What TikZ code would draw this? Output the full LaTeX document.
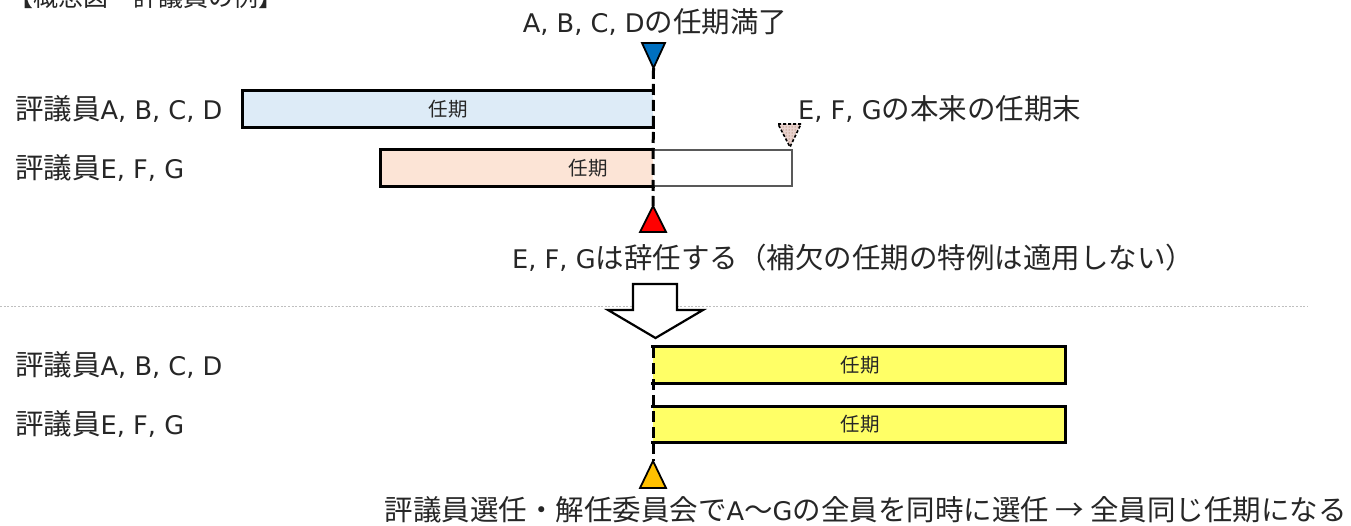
\documentclass[tikz,border=0pt]{standalone}
\usepackage{fontspec}
\setmainfont{Noto Sans CJK JP}
\newfontfamily\lat[Scale=0.9]{DejaVu Sans}
\usetikzlibrary{patterns}
\definecolor{txt}{HTML}{262626}
\definecolor{bluefill}{HTML}{DDEBF7}
\definecolor{orangefill}{HTML}{FCE4D6}
\definecolor{yellowfill}{HTML}{FFFF66}
\definecolor{bluetri}{HTML}{0070C0}
\definecolor{ambertri}{HTML}{FFC000}
\definecolor{graybar}{HTML}{595959}
\definecolor{dotgray}{HTML}{BFBFBF}
\definecolor{pinkfill}{HTML}{EAD3CF}
\tikzset{
  lbl/.style={font=\fontsize{28.5}{31}\selectfont, text=txt, inner sep=0pt},
  barlbl/.style={font=\fontsize{19.5}{22}\selectfont, text=txt, inner sep=0pt},
  bar/.style={draw=none, inner sep=0pt, minimum height=36pt},
  barline/.style={line width=3pt, line cap=rect},
  timeline/.style={line width=3pt, dash pattern=on 11pt off 5pt},
  tri/.style={line width=1.8pt, line join=miter},
}
\begin{document}
\begin{tikzpicture}[x=1pt,y=-1pt]
\useasboundingbox (0,0) rectangle (1351,526);
% title (cut off at top in the reference)
\node[font=\fontsize{25}{28}\selectfont, text=txt, inner sep=0pt, anchor=base west] (title) at (8,7) {【概念図・評議員の例】};

% top labels
\node[lbl] (endABCD) at (655,22) {{\lat A, B, C, D}の任期満了};
\node[lbl, anchor=west] (rowA) at (15,109) {評議員{\lat A, B, C, D}};
\node[lbl, anchor=west] (rowE) at (15,168) {評議員{\lat E, F, G}};
\node[lbl, anchor=west] (origEnd) at (798,109) {{\lat E, F, G}の本来の任期末};

% upper bars
\node[bar, fill=bluefill, minimum width=410pt] (barA) at (448,109) {};
\draw[barline] (barA.north east) -- (barA.north west) -- (barA.south west) -- (barA.south east);
\node[barlbl] (barAt) at (448,109) {任期};

\node[bar, fill=orangefill, minimum width=272pt] (barE) at (517,168) {};
\draw[barline] (barE.north east) -- (barE.north west) -- (barE.south west) -- (barE.south east);
\node[barlbl] (barEt) at (588,168) {任期};

\node[bar, fill=white, minimum width=139pt] (barX) at (722.5,168) {};
\draw[line width=2pt, draw=graybar] (barX.north west) -- (barX.north east) -- (barX.south east) -- (barX.south west);

% triangles & upper time line
\coordinate (tipB) at (653.5,68);
\coordinate (tipR) at (653,206);
\draw[timeline] (tipB) -- (tipR);
\draw[tri, fill=bluetri] (642,43) -- (665,43) -- (tipB) -- cycle;
\draw[tri, fill=red] (tipR) -- (666,232) -- (640,232) -- cycle;
\coordinate (tipP) at (790,147);
\draw[fill=pinkfill, draw=none] (778,124) -- (801,124) -- (tipP) -- cycle;
\fill[pattern=dots, pattern color=brown!70!black] (778,124) -- (801,124) -- (tipP) -- cycle;
\draw[line width=1.6pt, dash pattern=on 3pt off 2pt] (778,124) -- (801,124) -- (tipP) -- cycle;

\node[lbl, anchor=west] (resign) at (512,258) {{\lat E, F, G}は辞任する（補欠の任期の特例は適用しない）};

% separator
\coordinate (sepL) at (0,306.7);
\coordinate (sepR) at (1308,306.7);
\draw[dotgray, line width=1.6pt, dash pattern=on 2pt off 1.6pt] (sepL) -- (sepR);

% block arrow
\draw[line width=2.2pt, fill=white, line join=miter] (633,284) -- (677,284) -- (677,310) -- (703,310) -- (655.5,338) -- (608,310) -- (633,310) -- cycle;

% lower rows
\node[lbl, anchor=west] (rowA2) at (15,365) {評議員{\lat A, B, C, D}};
\node[lbl, anchor=west] (rowE2) at (15,424) {評議員{\lat E, F, G}};

\node[bar, fill=yellowfill, minimum width=412pt] (barA2) at (859,365) {};
\draw[barline] (barA2.north west) -- (barA2.north east) -- (barA2.south east) -- (barA2.south west);
\node[barlbl] (barA2t) at (860,365) {任期};

\node[bar, fill=yellowfill, minimum width=412pt] (barE2) at (859,424.5) {};
\draw[barline] (barE2.north west) -- (barE2.north east) -- (barE2.south east) -- (barE2.south west);
\node[barlbl] (barE2t) at (860,424.5) {任期};

\coordinate (topL) at (653,347);
\coordinate (tipO) at (653,461);
\draw[timeline] (topL) -- (tipO);
\draw[tri, fill=ambertri] (tipO) -- (666,488) -- (640,488) -- cycle;

\node[lbl, anchor=east] (elect) at (1347,510) {評議員選任・解任委員会で{\lat A}～{\lat G}の全員を同時に選任 → 全員同じ任期になる};
\end{tikzpicture}
\end{document}
